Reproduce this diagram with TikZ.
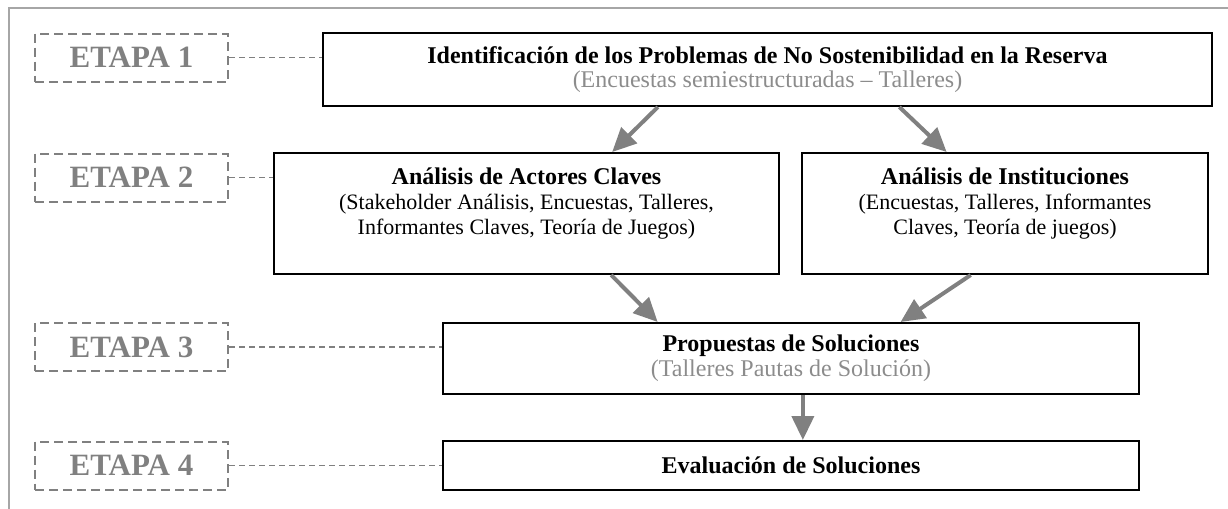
\documentclass[tikz,border=0pt]{standalone}
\usepackage{fontspec}
\setmainfont{Liberation Serif}
\usetikzlibrary{positioning,arrows.meta,calc}
\definecolor{stagegray}{HTML}{808080}
\definecolor{notegray}{HTML}{8C8C8C}
\tikzset{
  main/.style={rectangle, draw=black, line width=1pt, align=center, inner sep=0pt, font=\fontsize{11}{12.3}\selectfont},
  etapa/.style={rectangle, draw=stagegray, dash pattern=on 4.5pt off 2.5pt, line width=1pt, minimum width=96.5pt, minimum height=24pt, text=stagegray, font=\fontsize{15.5}{18}\selectfont\bfseries},
  connect/.style={-{Triangle[length=12pt,width=11pt]}, line width=2pt, draw=stagegray},
  guide/.style={dash pattern=on 3pt off 2pt, line width=0.8pt, draw=stagegray}
}
\newcommand{\ttl}[1]{{\fontsize{12}{12.3}\selectfont\bfseries #1}}
\newcommand{\note}[1]{{\fontsize{12}{12.3}\selectfont\color{notegray}#1}}

\begin{document}
\begin{tikzpicture}[x=0.5pt, y=-0.5pt]
      \useasboundingbox (0,0) rectangle (1228,509);
      \draw [line width=1pt, black!35] (9,509) -- (9,8) -- (1228,8);

      \node[main, minimum width=444.5pt, minimum height=36.5pt] (Ident) at (767.5,69.5)
        {\ttl{Identificación de los Problemas de No Sostenibilidad en la Reserva}\\
         \note{(Encuestas semiestructuradas -- Talleres)}};
      \node[main, minimum width=252.5pt, minimum height=60.5pt] (Actores) at (526.5,213.5)
        {\ttl{Análisis de Actores Claves}\\
         (Stakeholder Análisis, Encuestas, Talleres,\\
         Informantes Claves, Teoría de Juegos)\\ \mbox{}};
      \node[main, minimum width=203pt, minimum height=60.5pt] (Inst) at (1005,213.5)
        {\ttl{Análisis de Instituciones}\\
         (Encuestas, Talleres, Informantes\\
         Claves, Teoría de juegos)\\ \mbox{}};
      \node[main, minimum width=348pt, minimum height=35.5pt] (Prop) at (791,358.5)
        {\ttl{Propuestas de Soluciones}\\
         \note{(Talleres Pautas de Solución)}};
      \node[main, minimum width=348pt, minimum height=24.5pt] (Eval) at (791,465.5)
        {\ttl{Evaluación de Soluciones}};

      \node[etapa] (E1) at (131.5,57.5) {ETAPA 1};
      \node[etapa] (E2) at (131.5,177.5) {ETAPA 2};
      \node[etapa] (E3) at (131.5,347) {ETAPA 3};
      \node[etapa] (E4) at (131.5,465.5) {ETAPA 4};

      % dashed links to the stages
      \draw [guide] (E1.east) -- (E1.east -| Ident.west);
      \draw [guide] (E2.east) -- (E2.east -| Actores.west);
      \draw [guide] (E3.east) -- (E3.east -| Prop.west);
      \draw [guide] (E4.east) -- (E4.east -| Eval.west);

      \draw [connect] ($(Ident.south west)!0.377!(Ident.south east)$) -- ($(Actores.north west)!0.669!(Actores.north east)$);
      \draw [connect] ($(Ident.south west)!0.648!(Ident.south east)$) -- ($(Inst.north west)!0.357!(Inst.north east)$);
      \draw [connect] ($(Actores.south west)!0.667!(Actores.south east)$) -- ($(Prop.north west)!0.309!(Prop.north east)$);
      \draw [connect] ($(Inst.south west)!0.416!(Inst.south east)$) -- ($(Prop.north west)!0.657!(Prop.north east)$);
      \draw [connect] ($(Prop.south west)!0.517!(Prop.south east)$) -- ($(Eval.north west)!0.517!(Eval.north east)$);
\end{tikzpicture}
\end{document}
